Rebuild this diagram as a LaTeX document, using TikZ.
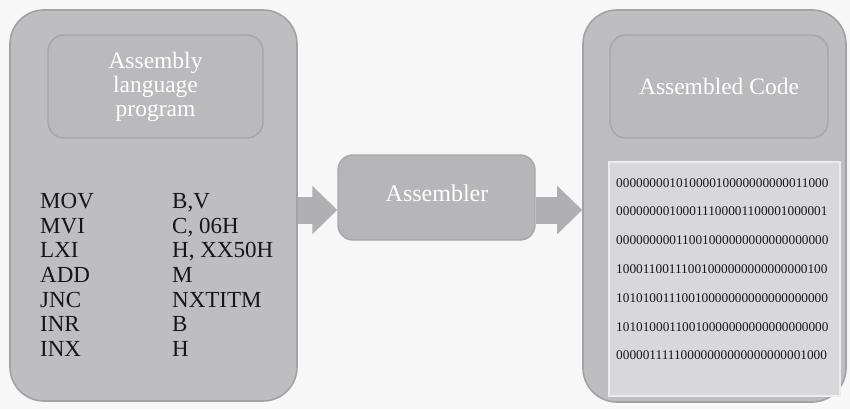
\documentclass[tikz,border=0pt]{standalone}
\usepackage{fontspec}
\setmainfont{Liberation Serif}
\usetikzlibrary{arrows.meta}
\definecolor{bgc}{RGB}{247,247,247}
\definecolor{outerfill}{RGB}{190,190,192}
\definecolor{outerline}{RGB}{162,162,164}
\definecolor{headfill}{RGB}{186,186,188}
\definecolor{headline}{RGB}{166,166,168}
\definecolor{asmfill}{RGB}{182,182,184}
\definecolor{arrowfill}{RGB}{176,176,178}
\definecolor{panelfill}{RGB}{216,216,218}
\definecolor{panelline}{RGB}{236,236,238}
\definecolor{codetext}{RGB}{22,22,22}
\tikzset{
  outerbox/.style={draw=outerline, line width=1.6pt, fill=outerfill, rounded corners=34pt, inner sep=0pt},
  headbox/.style={draw=headline, line width=1.4pt, fill=headfill, rounded corners=16pt, inner sep=0pt,
    text=white, align=center, font=\fontsize{23.5}{24}\selectfont},
  asmbox/.style={draw=headline, line width=1.4pt, fill=asmfill, rounded corners=15pt, inner sep=0pt,
    text=white, font=\fontsize{24}{26}\selectfont},
  panelbox/.style={draw=panelline, line width=1.6pt, fill=panelfill, inner sep=0pt},
  listing/.style={inner sep=0pt, anchor=base west, align=left, text=codetext, font=\fontsize{23}{24.7}\selectfont},
  bincode/.style={inner sep=0pt, anchor=base west, align=left, text=codetext, font=\fontsize{13.3}{28.8}\selectfont},
  fatarrow/.style={draw=arrowfill, line width=27pt, -{Triangle[width=47pt,length=25pt]}}
}
\begin{document}
\begin{tikzpicture}[x=1pt,y=-1pt]
\fill[bgc] (0,0) rectangle (850,409);
\useasboundingbox (0,0) rectangle (850,409);
% boxes
\node[outerbox, minimum width=287pt, minimum height=391pt] (leftbox) at (153.5,205.5) {};
\node[outerbox, minimum width=263pt, minimum height=392pt] (rightbox) at (714.5,206) {};
\coordinate (ay) at (0,210);
\node[asmbox, minimum width=197pt, minimum height=85pt] (asm) at (436.5,197.5) {};
\node[text=white, font=\fontsize{24}{26}\selectfont, inner sep=0pt] (asmlabel) at (437,193) {Assembler};
% arrows
\draw[fatarrow] (leftbox.east |- ay) -- (asm.west |- ay);
\draw[fatarrow] (asm.east |- ay) -- (rightbox.west |- ay);
% left content
\node[headbox, minimum width=215pt, minimum height=103pt] (lhead) at (155.5,86.5) {Assembly\\language\\program};
\node[listing] (ops) at (40,356.5) {MOV\\MVI\\LXI\\ADD\\JNC\\INR\\INX};
\node[listing] (args) at (172,356.5) {B,V\\C, 06H\\H, XX50H\\M\\NXTITM\\B\\H};
% right content
\node[headbox, minimum width=218pt, minimum height=103pt] (rhead) at (719,86.5) {Assembled Code};
\node[panelbox, minimum width=231pt, minimum height=234pt] (panel) at (724.5,279) {};
\node[bincode] (bin) at (616,359.8) {00000000101000010000000000011000\\00000000100011100001100001000001\\00000000011001000000000000000000\\10001100111001000000000000000100\\10101001110010000000000000000000\\10101000110010000000000000000000\\00000111110000000000000000001000};
\end{tikzpicture}
\end{document}
